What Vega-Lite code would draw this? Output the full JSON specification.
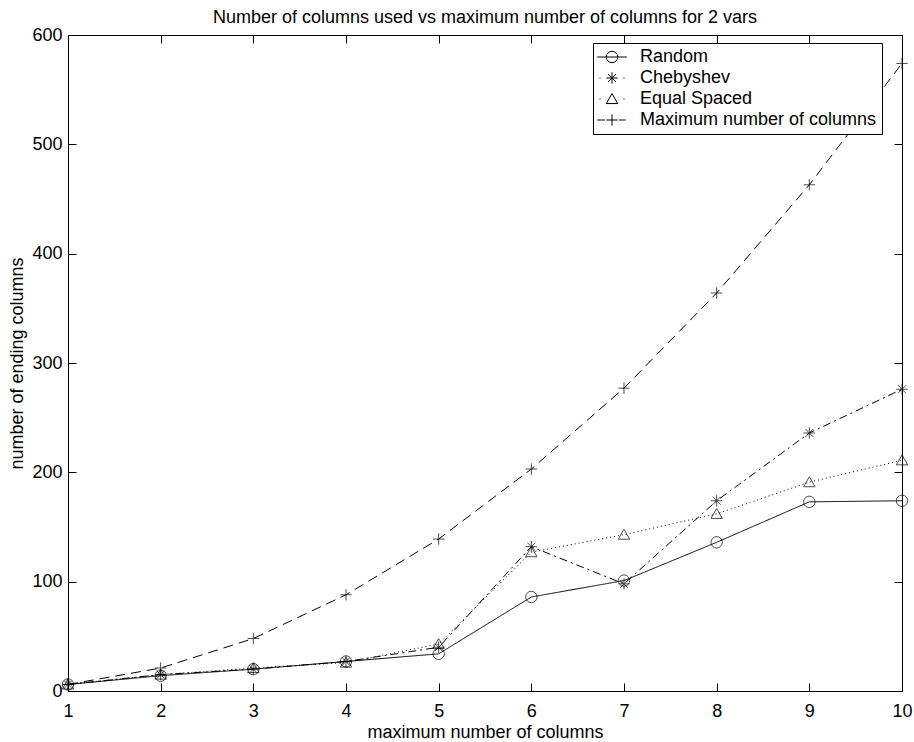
{
  "$schema": "https://vega.github.io/schema/vega-lite/v6.json",
  "width": 834,
  "height": 656,
  "autosize": "none",
  "padding": {"left": 68, "top": 35, "right": 12, "bottom": 51},
  "background": "white",
  "title": {
    "text": "Number of columns used vs maximum number of columns for 2 vars",
    "font": "Liberation Sans",
    "fontSize": 18,
    "fontWeight": "normal",
    "color": "black",
    "anchor": "middle",
    "offset": 10,
    "dy": 11
  },
  "config": {
    "view": {"stroke": null},
    "axis": {
      "grid": false,
      "domainColor": "black",
      "domainWidth": 1,
      "tickColor": "black",
      "tickWidth": 1,
      "tickSize": -8,
      "labelFlush": false,
      "labelColor": "black",
      "titleColor": "black",
      "labelFont": "Liberation Sans",
      "titleFont": "Liberation Sans",
      "labelFontSize": 18,
      "titleFontSize": 18,
      "titleFontWeight": "normal"
    }
  },
  "data": {
    "values": [
      {"x": 1, "series": "Random", "y": 6},
      {"x": 2, "series": "Random", "y": 14},
      {"x": 3, "series": "Random", "y": 20},
      {"x": 4, "series": "Random", "y": 27},
      {"x": 5, "series": "Random", "y": 34},
      {"x": 6, "series": "Random", "y": 86},
      {"x": 7, "series": "Random", "y": 101},
      {"x": 8, "series": "Random", "y": 136},
      {"x": 9, "series": "Random", "y": 173},
      {"x": 10, "series": "Random", "y": 174},
      {"x": 1, "series": "Chebyshev", "y": 6},
      {"x": 2, "series": "Chebyshev", "y": 15},
      {"x": 3, "series": "Chebyshev", "y": 20},
      {"x": 4, "series": "Chebyshev", "y": 27},
      {"x": 5, "series": "Chebyshev", "y": 40},
      {"x": 6, "series": "Chebyshev", "y": 132},
      {"x": 7, "series": "Chebyshev", "y": 98},
      {"x": 8, "series": "Chebyshev", "y": 174},
      {"x": 9, "series": "Chebyshev", "y": 236},
      {"x": 10, "series": "Chebyshev", "y": 276},
      {"x": 1, "series": "Equal Spaced", "y": 6},
      {"x": 2, "series": "Equal Spaced", "y": 15},
      {"x": 3, "series": "Equal Spaced", "y": 21},
      {"x": 4, "series": "Equal Spaced", "y": 26},
      {"x": 5, "series": "Equal Spaced", "y": 43},
      {"x": 6, "series": "Equal Spaced", "y": 127},
      {"x": 7, "series": "Equal Spaced", "y": 143},
      {"x": 8, "series": "Equal Spaced", "y": 162},
      {"x": 9, "series": "Equal Spaced", "y": 191},
      {"x": 10, "series": "Equal Spaced", "y": 211},
      {"x": 1, "series": "Maximum number of columns", "y": 6},
      {"x": 2, "series": "Maximum number of columns", "y": 21},
      {"x": 3, "series": "Maximum number of columns", "y": 48},
      {"x": 4, "series": "Maximum number of columns", "y": 88},
      {"x": 5, "series": "Maximum number of columns", "y": 139},
      {"x": 6, "series": "Maximum number of columns", "y": 203},
      {"x": 7, "series": "Maximum number of columns", "y": 277},
      {"x": 8, "series": "Maximum number of columns", "y": 364},
      {"x": 9, "series": "Maximum number of columns", "y": 463},
      {"x": 10, "series": "Maximum number of columns", "y": 574}
    ]
  },
  "resolve": {"axis": {"x": "independent", "y": "independent"}, "scale": {"shape": "independent"}, "legend": {"shape": "independent"}},
  "layer": [
    {
      "mark": {"type": "line", "color": "black", "strokeWidth": 1},
      "encoding": {
        "x": {
          "field": "x", "type": "quantitative",
          "scale": {"domain": [1, 10], "nice": false, "zero": false},
          "axis": {"values": [1, 2, 3, 4, 5, 6, 7, 8, 9, 10], "title": "maximum number of columns", "labelPadding": 19, "titlePadding": 3}
        },
        "y": {
          "field": "y", "type": "quantitative",
          "scale": {"domain": [0, 600], "nice": false},
          "axis": {"values": [0, 100, 200, 300, 400, 500, 600], "title": "number of ending columns", "labelPadding": 14, "titlePadding": 5}
        },
        "strokeDash": {
          "field": "series", "type": "nominal",
          "scale": {"domain": ["Maximum number of columns", "Random", "Chebyshev", "Equal Spaced"], "range": [[10, 6], [1, 0], [8, 4, 2, 4], [1, 3]]},
          "legend": null
        }
      }
    },
    {
      "mark": {"type": "point", "filled": false, "color": "black", "strokeWidth": 1, "size": 130},
      "encoding": {
        "x": {
          "field": "x", "type": "quantitative",
          "axis": {"orient": "top", "labels": false, "title": null, "values": [1, 2, 3, 4, 5, 6, 7, 8, 9, 10]}
        },
        "y": {
          "field": "y", "type": "quantitative",
          "axis": {"orient": "right", "labels": false, "title": null, "values": [0, 100, 200, 300, 400, 500, 600]}
        },
        "shape": {
          "field": "series", "type": "nominal",
          "scale": {
            "domain": ["Chebyshev", "Random", "Equal Spaced", "Maximum number of columns"],
            "range": ["M-1,0L1,0M0,-1L0,1M-0.7,-0.7L0.7,0.7M-0.7,0.7L0.7,-0.7", "circle", "M0,-0.95L1,0.8L-1,0.8Z", "M-1,0L1,0M0,-1L0,1"]
          },
          "legend": null
        }
      }
    },
    {
      "mark": {"type": "point", "filled": false, "color": "black", "strokeWidth": 1, "size": 130, "opacity": 0},
      "encoding": {
        "x": {"field": "x", "type": "quantitative", "axis": null},
        "y": {"field": "y", "type": "quantitative", "axis": null},
        "shape": {
          "field": "series", "type": "nominal",
          "scale": {
            "domain": ["Random", "Chebyshev", "Equal Spaced", "Maximum number of columns"],
            "range": [
              "M-2.6,0L2.6,0M1,0A1,1,0,1,1,-1,0A1,1,0,1,1,1,0",
              "M-2.2,0L-2,0M2,0L2.2,0M-1,0L1,0M0,-1L0,1M-0.7,-0.7L0.7,0.7M-0.7,0.7L0.7,-0.7",
              "M-2.2,0L-2,0M2,0L2.2,0M0,-0.95L1,0.8L-1,0.8Z",
              "M-2.6,0L-1.2,0M-1,0L1,0M0,-1L0,1M1.2,0L2.4,0"
            ]
          },
          "legend": {
            "title": null,
            "orient": "none",
            "legendX": 525,
            "legendY": 8,
            "padding": 5,
            "strokeColor": "black",
            "fillColor": "white",
            "cornerRadius": 0,
            "labelFont": "Liberation Sans",
            "labelFontSize": 18,
            "labelColor": "black",
            "labelLimit": 0,
            "symbolSize": 130,
            "symbolOpacity": 1,
            "symbolStrokeWidth": 1,
            "symbolStrokeColor": "black",
            "symbolFillColor": "transparent",
            "rowPadding": 3,
            "symbolOffset": 5,
            "labelOffset": 19
          }
        }
      }
    }
  ]
}
